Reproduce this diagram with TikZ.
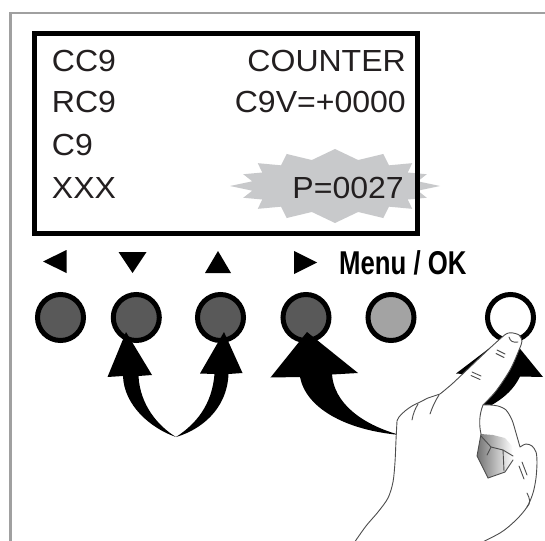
\documentclass[tikz,border=0pt]{standalone}
\usepackage{fontspec}
\setmainfont{Liberation Sans}[FakeStretch=1.05]
\newfontfamily\menufont{Liberation Sans}[FakeStretch=0.78]
\usetikzlibrary{calc}
\definecolor{ink}{HTML}{231F20}
\definecolor{framegray}{HTML}{A0A0A0}
\definecolor{burst}{HTML}{C8C9CB}
\definecolor{keydark}{HTML}{595959}
\definecolor{keylight}{HTML}{A3A3A3}
\definecolor{handline}{HTML}{4D4D4D}
\begin{document}
\begin{tikzpicture}[x=1pt,y=-1pt,
  lcdtext/.style={font=\fontsize{30.5}{30.5}\selectfont, text=ink, inner sep=0},
  key/.style={circle, draw=black, line width=5, minimum size=46, inner sep=0},
  pointer/.style={fill=black},
  glyph/.style={fill=black},
  hand/.style={draw=handline, line width=0.9, line join=round, line cap=round}]
\useasboundingbox (0,0) rectangle (545,540);
\fill[white] (0,0) rectangle (545,540);

% outer panel frame
\draw[framegray, line width=2.7] (10.7,541) -- (10.7,13) -- (546,13);

% highlight burst behind the P value: outer spike points alternate with inner notches
\fill[burst] (230,186)
  \foreach \a/\r in {190/0,200/0.93,210/0,220/0.96,230/0,242/0.98,254/0,270/1.0,286/0,
                     298/0.98,310/0,320/0.96,330/0,340/0.93,350/0,360/1.0,10/0,20/0.93,
                     30/0,40/0.96,50/0,62/0.98,74/0,90/1.0,106/0,118/0.98,130/0,140/0.96,
                     150/0,160/0.93,170/0}
  { -- ({335+(\r==0 ? 84 : 105*\r)*cos(\a)},{186+(\r==0 ? 27 : 37*\r)*sin(\a)}) } -- cycle;

% display window
\draw[line width=5, line join=miter] (34.8,34) rectangle (417.5,233);

% display lines
\node[lcdtext, anchor=base west] (cc)  at (51.7,71.5)  {CC9};
\node[lcdtext, anchor=base west] (rc)  at (51.7,112.5) {RC9};
\node[lcdtext, anchor=base west] (c9)  at (51.7,155.5) {C9};
\node[lcdtext, anchor=base west] (xxx) at (51.7,198.3) {XXX};
\node[lcdtext, anchor=base east] (cnt) at (406,71.5)   {COUNTER};
\node[lcdtext, anchor=base east] (val) at (406,112.5)  {C9V=+0000};
\node[lcdtext, anchor=base east] (pv)  at (404,198.3)  {P=0027};

% key legends
\fill[glyph] (43,261.5) -- (66.5,250) -- (66.5,273) -- cycle;
\fill[glyph] (118.5,252) -- (146.5,252) -- (132.5,273) -- cycle;
\fill[glyph] (205,273) -- (231,273) -- (218,251) -- cycle;
\fill[glyph] (294,251) -- (317,262.5) -- (294,274) -- cycle;
\node[font=\menufont\bfseries\fontsize{33}{33}\selectfont, text=black, inner sep=0, anchor=base west]
  (menu) at (339,274) {Menu / OK};

% keys
\node[key, fill=keydark]  (k1) at (60.5,317.5) {};
\node[key, fill=keydark]  (k2) at (136.3,317.5) {};
\node[key, fill=keydark]  (k3) at (220.5,317.5) {};
\node[key, fill=keydark]  (k4) at (306,317.5) {};
\node[key, fill=keylight] (k5) at (391,317.5) {};
\node[key, fill=white]    (k6) at (510.5,317.5) {};

% curved press arrows
\fill[pointer] (126,332) -- (152,375) -- (138.5,376)
  .. controls (140,405) and (158,426) .. (176,437)
  .. controls (150,428) and (124,405) .. (123,376)
  -- (107.5,377) -- cycle;
\fill[pointer] (224,332) -- (242.5,373) -- (228.5,374)
  .. controls (227,410) and (200,430) .. (176,437)
  .. controls (196,424) and (212,405) .. (214.5,374)
  -- (200,373.5) -- cycle;
\fill[pointer] (307,332) -- (358,373) -- (332,374.5)
  .. controls (334,402) and (360,424) .. (400,435)
  .. controls (345,430) and (306,408) .. (300,377)
  -- (270.5,377.5) -- cycle;
\fill[pointer] (508,334) -- (543,377) -- (520,376.5)
  .. controls (512,393) and (498,403) .. (476,413)
  .. controls (488,400) and (494,390) .. (496,376.5)
  -- (456,373.5) -- cycle;

% pressing hand, one closed outline
\filldraw[hand, fill=white]
  (513,333)
  -- plot[smooth, tension=0.45] coordinates {(513,333) (506,334) (490,348) (470,367) (452,384) (440,394)}
  -- plot[smooth, tension=0.5] coordinates {(440,394) (434,396) (428,398) (424,400)}
  -- plot[smooth, tension=0.5] coordinates {(424,400) (418,403) (412,406) (405,411) (399,417) (397,421)}
  -- plot[smooth, tension=0.5] coordinates {(397,421) (396,440) (395,462) (393,482) (388,498) (378,512) (366,526) (354,543)}
  -- (470,548)
  -- plot[smooth, tension=0.5] coordinates {(470,548) (500,533) (516,520) (527,507) (533,493) (536,478) (537,462) (536,452) (532,446) (526,444) (520,447)}
  -- plot[smooth, tension=0.5] coordinates {(520,447) (516,433) (512,420) (506,410) (498,406) (490,405) (483,405)}
  -- plot[smooth, tension=0.5] coordinates {(483,405) (496,391) (510,370) (519,350) (522,341) (519,335) (513,333)}
  -- cycle;

% shading on the curled fingers
\shade[left color=black!55, right color=white]
  (481,434) -- (477,456) -- (488,478) -- (505,472) -- (513,460) -- (512,446) -- (505,438) -- (493,435) -- cycle;
\draw[hand] (481,434) -- (477,456) -- (488,478);
\draw[hand] (488,478) -- (505,472) -- (513,460);
\draw[hand] (481,436) -- (491,447) -- (487,455);
\draw[hand] (491,447) -- (503,450) -- (504,471);
\draw[hand] (503,450) -- (513,456);

% fold lines of the hand
\draw[hand] (483,405) .. controls (479,415) and (479,425) .. (481,434);
\draw[hand] (439,395) .. controls (435,401) and (432,408) .. (430,414);
\draw[hand] (418,404) .. controls (415,409) and (413,414) .. (412,420);
\draw[hand] (497,350) -- (505,354);
\draw[hand] (496,353.5) -- (504,357.5);
\draw[hand] (472,372) -- (481,376);
\draw[hand] (471,375.5) -- (480,379.5);
\draw[hand] (509,337) .. controls (510,341) and (513,343) .. (518,342);
\draw[hand] (522,462) -- (527,475);
\draw[hand] (519,466) -- (524,479);
\draw[hand] (527,493) .. controls (530,499) and (531,503) .. (527,507);
\end{tikzpicture}
\end{document}
